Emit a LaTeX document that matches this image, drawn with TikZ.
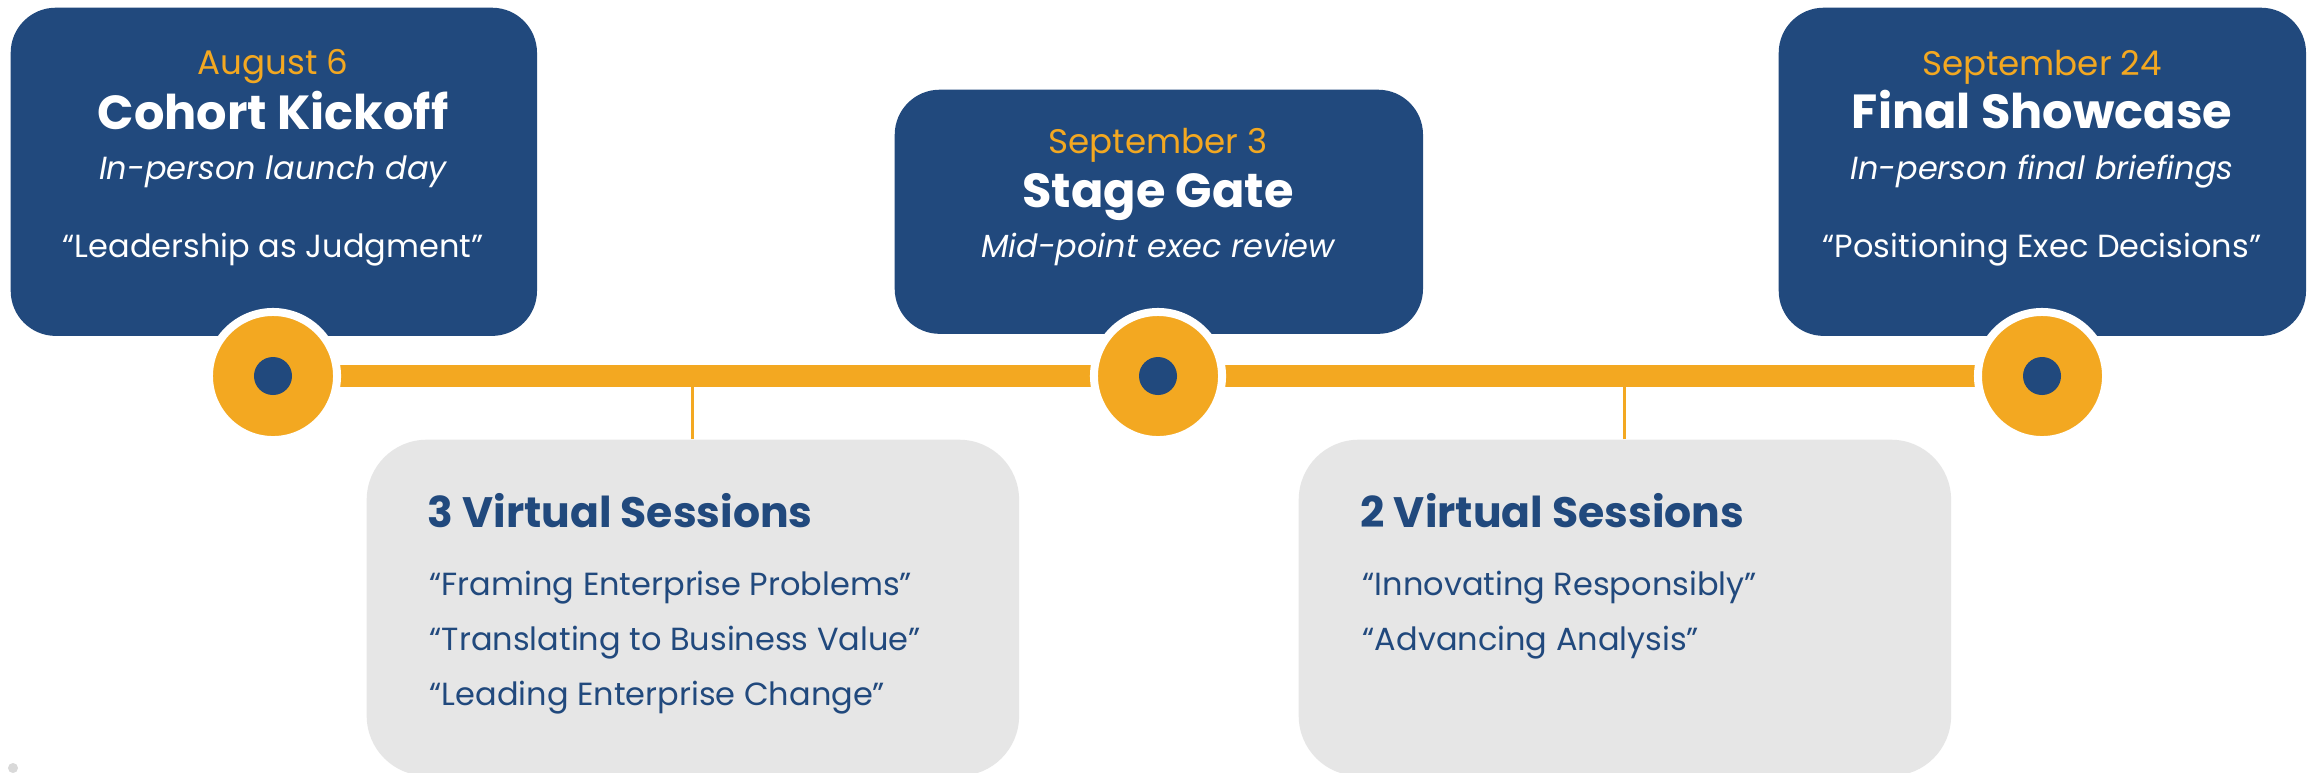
\documentclass[tikz,border=0pt]{standalone}
\usepackage{fontspec}
\setmainfont{Poppins}
\definecolor{navy}{RGB}{33,73,125}
\definecolor{amber}{RGB}{243,168,33}
\definecolor{panelgray}{RGB}{230,230,230}
\def\smalltext{\fontsize{9.1}{10}\selectfont}
\def\datetext{\fontsize{9.7}{11}\selectfont}
\def\titletext{\fontsize{13.6}{15}\selectfont\bfseries}
\def\headtext{\fontsize{12.1}{14}\selectfont\bfseries}

\begin{document}
\begin{tikzpicture}[x=0.01cm,y=-0.01cm,
  bluebox/.style={fill=navy,rounded corners=0.45cm,inner sep=0,anchor=north west},
  graybox/.style={fill=panelgray,rounded corners=0.6cm,inner sep=0,anchor=north west,minimum width=6.52cm,minimum height=3.36cm},
  milestone/.style={circle,fill=amber,draw=white,line width=0.08cm,minimum size=1.28cm,inner sep=0},
  hub/.style={circle,fill=navy,minimum size=0.38cm,inner sep=0},
  track/.style={amber,line width=0.22cm},
  stem/.style={amber,line width=0.03cm},
  txt/.style={inner sep=0,anchor=base}]
\clip (0,0) rectangle (2315,772);
\fill[white] (0,0) rectangle (2315,772);
% milestone boxes
\node[bluebox,minimum width=5.26cm,minimum height=3.28cm] (B1) at (10,7) {};
\node[bluebox,minimum width=5.28cm,minimum height=2.44cm] (B2) at (894,89) {};
\node[bluebox,minimum width=5.27cm,minimum height=3.28cm] (B3) at (1778,7) {};
\node[txt,text=amber] (D1) at (273,74) {\datetext August 6};
\node[txt,text=white] (T1) at (273,129) {\titletext Cohort Kickoff};
\node[txt,text=white] (S1) at (273,179) {\smalltext\itshape In-person launch day};
\node[txt,text=white] (Q1) at (273,257) {\smalltext “Leadership as Judgment”};
\node[txt,text=amber] (D2) at (1158,153) {\datetext September 3};
\node[txt,text=white] (T2) at (1158,207) {\titletext Stage Gate};
\node[txt,text=white] (S2) at (1158,257) {\smalltext\itshape Mid-point exec review};
\node[txt,text=amber] (D3) at (2042,75) {\datetext September 24};
\node[txt,text=white] (T3) at (2042,128) {\titletext Final Showcase};
\node[txt,text=white] (S3) at (2042,179) {\smalltext\itshape In-person final briefings};
\node[txt,text=white] (Q3) at (2042,257) {\smalltext “Positioning Exec Decisions”};
% virtual session panels
\node[graybox] (GA) at (366,439) {};
\node[graybox] (GB) at (1298,439) {};
\node[txt,anchor=base west,text=navy] (HA) at (427,527) {\headtext 3 Virtual Sessions};
\node[txt,anchor=base west,text=navy] (LA1) at (429,595) {\smalltext “Framing Enterprise Problems”};
\node[txt,anchor=base west,text=navy] (LA2) at (429,650) {\smalltext “Translating to Business Value”};
\node[txt,anchor=base west,text=navy] (LA3) at (429,705) {\smalltext “Leading Enterprise Change”};
\node[txt,anchor=base west,text=navy] (HB) at (1360,527) {\headtext 2 Virtual Sessions};
\node[txt,anchor=base west,text=navy] (LB1) at (1362,595) {\smalltext “Innovating Responsibly”};
\node[txt,anchor=base west,text=navy] (LB2) at (1362,650) {\smalltext “Advancing Analysis”};
% timeline
\coordinate (c1) at (273,376);
\coordinate (c2) at (1158,376);
\coordinate (c3) at (2042,376);
\draw[stem] (GA.north) -- (GA.north |- c1);
\draw[stem] (GB.north) -- (GB.north |- c1);
\draw[track] (c1) -- (c2) -- (c3);
\node[milestone] (M1) at (c1) {};
\node[milestone] (M2) at (c2) {};
\node[milestone] (M3) at (c3) {};
\node[hub] (H1) at (c1) {};
\node[hub] (H2) at (c2) {};
\node[hub] (H3) at (c3) {};
\node[circle,fill=gray!30,minimum size=0.1cm,inner sep=0] (dot) at (13,768) {};
\end{tikzpicture}
\end{document}
